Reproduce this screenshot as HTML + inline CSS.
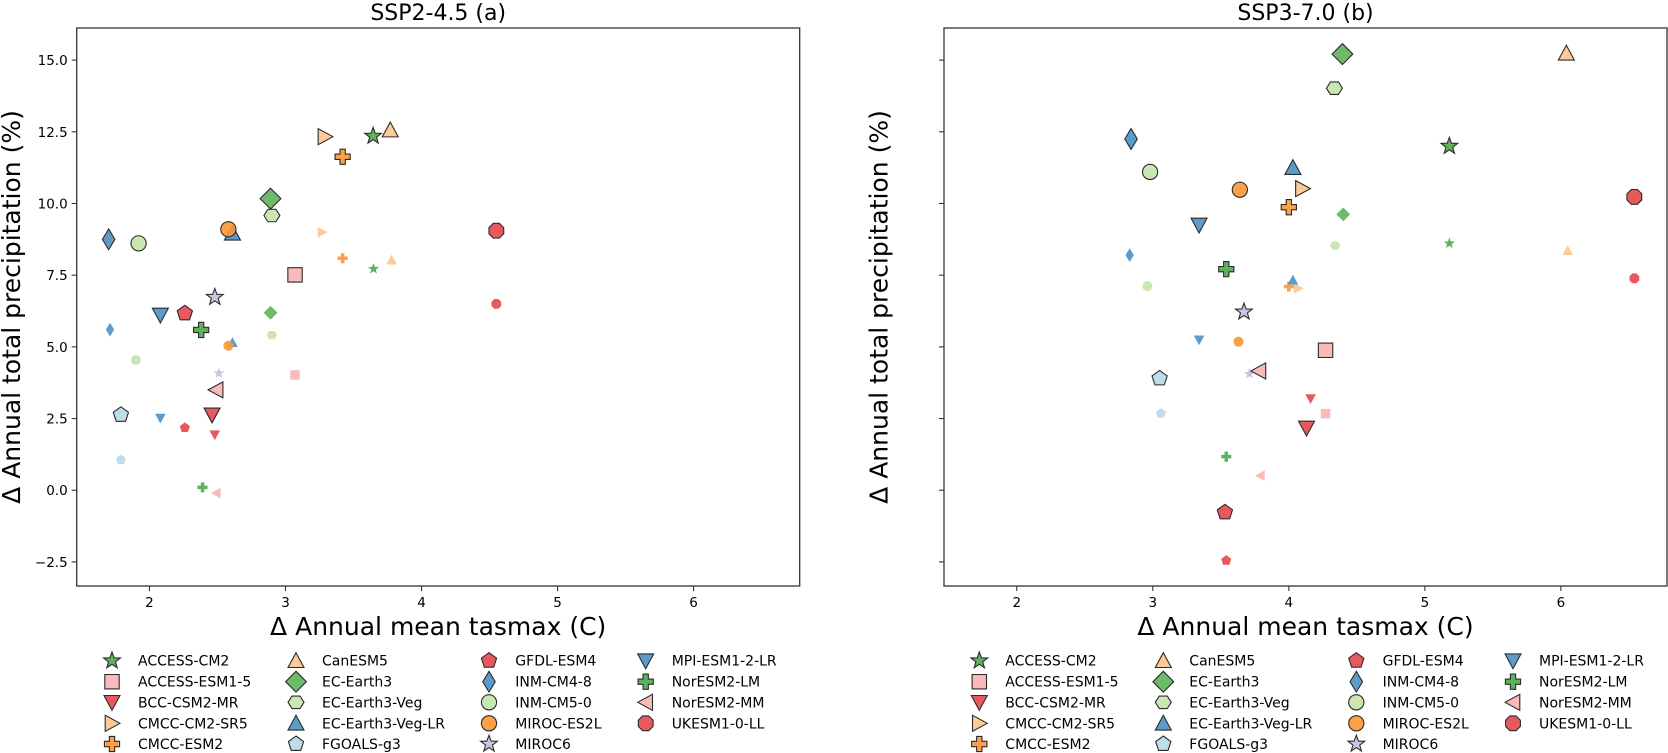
<!DOCTYPE html>
<html><head><meta charset="utf-8"><style>
html,body{margin:0;padding:0;background:#fff;}
svg{display:block;font-family:"DejaVu Sans","Liberation Sans",sans-serif;}
</style></head><body>
<svg id="fig" width="1668" height="753" viewBox="0 0 1668 753" xmlns="http://www.w3.org/2000/svg"></svg>
<script>
const models = ["ACCESS-CM2","ACCESS-ESM1-5","BCC-CSM2-MR","CMCC-CM2-SR5","CMCC-ESM2","CanESM5","EC-Earth3","EC-Earth3-Veg","EC-Earth3-Veg-LR","FGOALS-g3","GFDL-ESM4","INM-CM4-8","INM-CM5-0","MIROC-ES2L","MIROC6","MPI-ESM1-2-LR","NorESM2-LM","NorESM2-MM","UKESM1-0-LL"];
const markers = ["star","square","tridown","triright","plus","triup","diamond","hexagon","triup","pentagon","pentagon","thindiamond","circle","circle","star","tridown","plus","trileft","octagon"];
const colors = ["#4fa84c","#fbb3b3","#e6474d","#fdc58c","#fd9636","#fdc58c","#5cb35a","#c4e4ab","#4a90c4","#b8d8ea","#e6474d","#4a90c4","#c4e4ab","#fd9636","#cbbddf","#4a90c4","#4fa84c","#fbb3b3","#e6474d"];
// SSP2-4.5 (a)
const xL1 = [3.644,3.07,2.46,3.29,3.42,3.77,2.89,2.90,2.61,1.79,2.26,1.70,1.92,2.58,2.48,2.08,2.38,2.49,4.55];
const yL1 = [12.35,7.51,2.63,12.33,11.63,12.56,10.17,9.58,8.96,2.63,6.17,8.75,8.61,9.10,6.73,6.11,5.59,3.50,9.05];
const xS1 = [3.647,3.07,2.48,3.27,3.42,3.78,2.89,2.90,2.61,1.79,2.26,1.71,1.90,2.58,2.51,2.08,2.39,2.49,4.55];
const yS1 = [7.72,4.02,1.93,9.0,8.09,8.03,6.19,5.41,5.15,1.06,2.18,5.60,4.54,5.04,4.08,2.51,0.10,-0.10,6.50];
// SSP3-7.0 (b)
const xL2 = [5.18,4.27,4.13,4.10,4.00,6.04,4.394,4.335,4.03,3.05,3.53,2.84,2.98,3.64,3.67,3.34,3.54,3.78,6.54];
const yL2 = [12.0,4.88,2.17,10.52,9.87,15.24,15.21,14.02,11.25,3.90,-0.77,12.25,11.10,10.48,6.22,9.25,7.71,4.16,10.23];
const xS2 = [5.18,4.27,4.16,4.07,4.00,6.05,4.40,4.34,4.03,3.06,3.54,2.83,2.96,3.63,3.71,3.34,3.54,3.79,6.54];
const yS2 = [8.61,2.67,3.19,7.04,7.10,8.36,9.62,8.53,7.33,2.68,-2.45,8.20,7.12,5.18,4.06,5.24,1.17,0.51,7.39];
const xTicks = [2,3,4,5,6];
const yTicks = [-2.5,0,2.5,5,7.5,10,12.5,15];
const yTickLabels = ["\u22122.5","0.0","2.5","5.0","7.5","10.0","12.5","15.0"];
const xMin = 1.465, xMax = 6.78, yMin = -3.34, yMax = 16.12;

const NS = "http://www.w3.org/2000/svg";
const svg = document.getElementById("fig");
function el(tag, attrs, parent){
  const e = document.createElementNS(NS, tag);
  for (const k in attrs) e.setAttribute(k, attrs[k]);
  (parent||svg).appendChild(e);
  return e;
}
function shapePath(type, cx, cy, r){
  const p = [];
  const poly = (n, rot, rr, sx, sy) => {
    for (let i=0;i<n;i++){ const a = rot + i*2*Math.PI/n; p.push([cx+Math.cos(a)*rr*(sx||1), cy+Math.sin(a)*rr*(sy||1)]); }
  };
  switch(type){
    case "circle": return null;
    case "square": { const h=r*0.9; p.push([cx-h,cy-h],[cx+h,cy-h],[cx+h,cy+h],[cx-h,cy+h]); break; }
    case "triup": p.push([cx,cy-r],[cx+r,cy+r*0.85],[cx-r,cy+r*0.85]); break;
    case "tridown": p.push([cx,cy+r],[cx+r,cy-r*0.85],[cx-r,cy-r*0.85]); break;
    case "triright": p.push([cx+r,cy],[cx-r*0.85,cy-r],[cx-r*0.85,cy+r]); break;
    case "trileft": p.push([cx-r,cy],[cx+r*0.85,cy-r],[cx+r*0.85,cy+r]); break;
    case "diamond": { const h=r*1.3; p.push([cx,cy-h],[cx+h,cy],[cx,cy+h],[cx-h,cy]); break; }
    case "thindiamond": { const h=r*1.3; p.push([cx,cy-h],[cx+h*0.6,cy],[cx,cy+h],[cx-h*0.6,cy]); break; }
    case "pentagon": poly(5, -Math.PI/2, r); break;
    case "hexagon": poly(6, 0, r*1.0, 1, 0.9); break;
    case "octagon": poly(8, Math.PI/8, r); break;
    case "star": for (let i=0;i<10;i++){ const a=-Math.PI/2+i*Math.PI/5; const rr = i%2? r*0.45 : r*1.1; p.push([cx+Math.cos(a)*rr, cy+Math.sin(a)*rr]); } break;
    case "plus": { const a=r*0.95, b=r*0.33;
      p.push([cx-b,cy-a],[cx+b,cy-a],[cx+b,cy-b],[cx+a,cy-b],[cx+a,cy+b],[cx+b,cy+b],[cx+b,cy+a],[cx-b,cy+a],[cx-b,cy+b],[cx-a,cy+b],[cx-a,cy-b],[cx-b,cy-b]); break; }
  }
  return "M" + p.map(q=>q[0].toFixed(2)+","+q[1].toFixed(2)).join("L") + "Z";
}
function drawMarker(parent, type, cx, cy, r, color, edge, name){
  let e;
  const d = shapePath(type, cx, cy, r);
  const attrs = {fill: color, "fill-opacity": 0.9};
  if (edge){ attrs.stroke = "#2b2b2b"; attrs["stroke-width"] = 1.1; attrs["stroke-linejoin"]="miter"; }
  if (d === null){ attrs.cx=cx; attrs.cy=cy; attrs.r=r*0.95; e = el("circle", attrs, parent); }
  else { attrs.d = d; e = el("path", attrs, parent); }
  
  
  return e;
}

function panel(ax0, title, xL, yL, xS, yS, showYTicks, idx){
  const top=28, bottom=586, left=ax0, right=ax0+723;
  const X = v => left + (v - xMin)/(xMax - xMin)*(right-left);
  const Y = v => bottom - (v - yMin)/(yMax - yMin)*(bottom-top);
  const g = el("g", {});
  
  
  const t = el("text", {x:(left+right)/2, y:20, "font-size":22, "text-anchor":"middle", fill:"#000"}, g);
  t.textContent = title;
  
  
  const pts = el("g", {}, g);
  
  
  for (let i=0;i<models.length;i++){
    drawMarker(pts, markers[i], X(xL[i]), Y(yL[i]), 8, colors[i], true, 'point-large-' + models[i]);
    drawMarker(pts, markers[i], X(xS[i]), Y(yS[i]), 5.3, colors[i], false, 'point-small-' + models[i]);
  }
  const frame = el("rect", {x:left, y:top, width:right-left, height:bottom-top, fill:"none", stroke:"#333", "stroke-width":1.3}, g);
  
  
  xTicks.forEach(v=>{
    const x = X(v);
    const tk = el("line", {x1:x, x2:x, y1:bottom, y2:bottom+5, stroke:"#333", "stroke-width":1.1}, g);
    
    
    const lb = el("text", {x:x, y:607, "font-size":13.5, "text-anchor":"middle", fill:"#000"}, g);
    lb.textContent = String(v);
    
    
  });
  yTicks.forEach((v,k)=>{
    const y = Y(v);
    const tk = el("line", {x1:left-5, x2:left, y1:y, y2:y, stroke:"#333", "stroke-width":1.1}, g);
    
    
    if (showYTicks){
      const lb = el("text", {x:left-9, y:y+5, "font-size":13.5, "text-anchor":"end", fill:"#000"}, g);
      lb.textContent = yTickLabels[k];
      
      
    }
  });
  const xl = el("text", {x:(left+right)/2, y:635, "font-size":25, "text-anchor":"middle", fill:"#000"}, g);
  xl.textContent = "\u0394 Annual mean tasmax (C)";
  
  
  const yx = left - 56.7;
  const yl = el("text", {x:0, y:0, "font-size":25, "text-anchor":"middle", fill:"#000", transform:"translate("+yx+","+((top+bottom)/2)+") rotate(-90)"}, g);
  yl.textContent = "\u0394 Annual total precipitation (%)";
  
  
}

function legend(offset, idx){
  const colM = [112,296,489,645.7], colT = [138,322,515.3,671.7];
  const rows = [660.7,681.7,702.3,723.3,744];
  const g = el("g", {});
  
  
  for (let i=0;i<models.length;i++){
    const c = Math.floor(i/5), r = i%5;
    const e = el("g", {}, g);
    
    
    drawMarker(e, markers[i], colM[c]+offset, rows[r], 8, colors[i], true, 'legend-marker');
    const t = el("text", {x:colT[c]+offset, y:rows[r]+5, "font-size":14, fill:"#000"}, e);
    t.textContent = models[i];
    
    
  }
}

panel(76.7, "SSP2-4.5 (a)", xL1, yL1, xS1, yS1, true, 'a');
panel(944, "SSP3-7.0 (b)", xL2, yL2, xS2, yS2, false, 'b');
legend(0, 'a');
legend(867.3, 'b');
</script>
</body></html>
